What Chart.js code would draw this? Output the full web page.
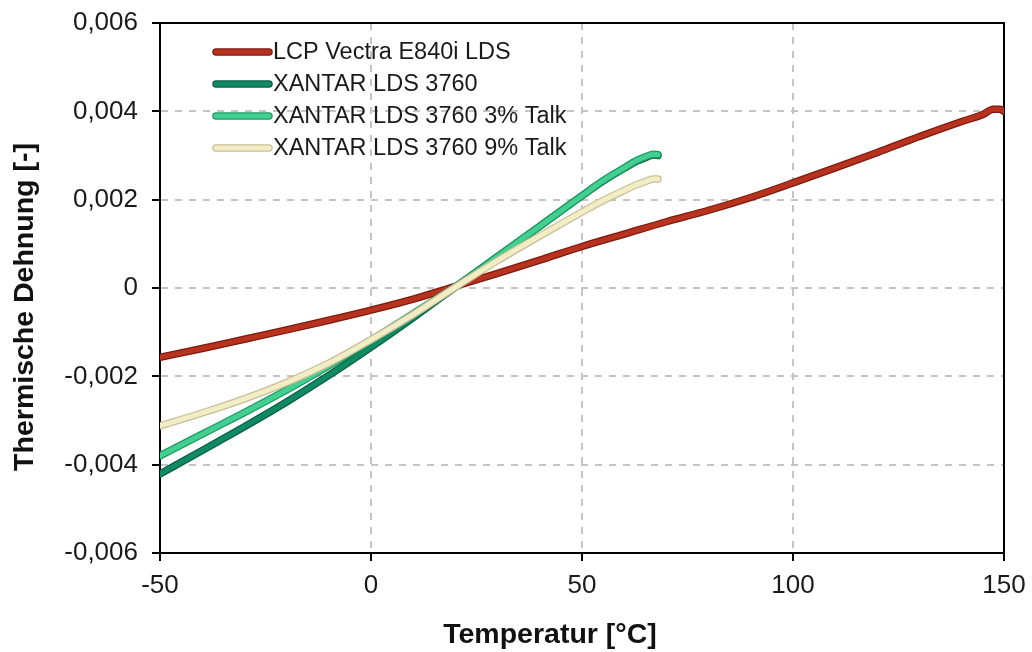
<!DOCTYPE html>
<html><head><meta charset="utf-8">
<script src="https://cdn.jsdelivr.net/npm/chart.js@4"></script>
<style>html,body{margin:0;padding:0;background:#fff}canvas{display:block}</style>
</head><body>
<canvas id="c" width="1032" height="652"></canvas>
<script>
const seriesNames = ['LCP Vectra E840i LDS', 'XANTAR LDS 3760', 'XANTAR LDS 3760 3% Talk', 'XANTAR LDS 3760 9% Talk'];
const xTitle = 'Temperatur [°C]';
const yTitle = 'Thermische Dehnung [-]';
const xTicks = [-50, 0, 50, 100, 150];
const yTicks = [-0.006, -0.004, -0.002, 0, 0.002, 0.004, 0.006];

const tempLCP = [-50, -40, -30, -20, -10, 0, 10, 20, 30, 40, 50, 60, 70, 80, 90, 100, 110, 120, 130, 140, 145, 147.5, 149, 150];
const valLCP  = [-0.00157, -0.00137, -0.00116, -0.00095, -0.00073, -0.00050, -0.00025, 0.00004, 0.00033, 0.00063, 0.00094, 0.00122, 0.00150, 0.00176, 0.00205, 0.00238, 0.00272, 0.00307, 0.00343, 0.00377, 0.00393, 0.00405, 0.00405, 0.00400];

const tempX = [-50, -40, -30, -20, -10, 0, 10, 20, 30, 40, 50, 55, 60, 63, 65, 67, 68];
const valX  = [-0.00421, -0.00368, -0.00314, -0.00258, -0.00198, -0.00134, -0.00067, 0.00002, 0.00071, 0.00140, 0.00209, 0.00242, 0.00271, 0.00287, 0.00295, 0.00301, 0.00300];

const tempX3 = [-50, -40, -30, -20, -10, 0, 10, 20, 30, 40, 50, 55, 60, 63, 65, 67, 68];
const valX3  = [-0.00380, -0.00331, -0.00282, -0.00231, -0.00176, -0.00118, -0.00058, 0.00003, 0.00071, 0.00140, 0.00209, 0.00243, 0.00272, 0.00289, 0.00297, 0.00303, 0.00302];

const tempX9 = [-50, -40, -30, -20, -10, 0, 10, 20, 30, 40, 50, 55, 60, 63, 65, 67, 68];
const valX9  = [-0.00312, -0.00283, -0.00251, -0.00214, -0.00170, -0.00117, -0.00060, 0.00002, 0.00062, 0.00118, 0.00172, 0.00198, 0.00221, 0.00234, 0.00241, 0.00247, 0.00247];

const fillColors = ['#b8321e', '#0f8a62', '#42cf8f', '#f3edc6'];
const edgeColors = ['#7a1b10', '#075f43', '#1c9a64', '#c7bf98'];
const FONT = "'Liberation Sans', Arial, sans-serif";

const temps = [tempLCP, tempX, tempX3, tempX9];
const vals = [valLCP, valX, valX3, valX9];

const datasets = [];
for (let i = seriesNames.length - 1; i >= 0; i--) {
  const pts = temps[i].map((t, k) => ({x: t, y: vals[i][k]}));
  const base = (seriesNames.length - 1 - i) * 2;
  datasets.push({label: seriesNames[i], data: pts, borderColor: fillColors[i], borderWidth: 5, order: base,
    pointRadius: 0, cubicInterpolationMode: 'monotone', borderCapStyle: 'round', borderJoinStyle: 'round', fill: false});
  datasets.push({label: seriesNames[i] + ' edge', data: pts, borderColor: edgeColors[i], borderWidth: 7.5, order: base + 1,
    pointRadius: 0, cubicInterpolationMode: 'monotone', borderCapStyle: 'round', borderJoinStyle: 'round', fill: false});
}

const fmtY = v => Math.abs(v) < 1e-9 ? '0' : v.toFixed(3).replace('.', ',');

const framePlugin = {
  id: 'frame',
  beforeDatasetsDraw(chart) {
    const {ctx, chartArea: a} = chart;
    ctx.save();
    ctx.strokeStyle = '#000';
    ctx.lineWidth = 2;
    ctx.strokeRect(a.left, a.top, a.right - a.left, a.bottom - a.top);
    ctx.restore();
  }
};

const textPlugin = {
  id: 'texts',
  afterDatasetsDraw(chart) {
    const {ctx} = chart;
    ctx.save();
    const ys = [52, 84, 116, 148];
    seriesNames.forEach((name, i) => {
      const y = ys[i];
      ctx.lineCap = 'round';
      ctx.strokeStyle = edgeColors[i];
      ctx.lineWidth = 7.5;
      ctx.beginPath(); ctx.moveTo(216, y); ctx.lineTo(269, y); ctx.stroke();
      ctx.strokeStyle = fillColors[i];
      ctx.lineWidth = 5;
      ctx.beginPath(); ctx.moveTo(216, y); ctx.lineTo(269, y); ctx.stroke();
      ctx.fillStyle = '#1a1a1a';
      ctx.font = '23.5px ' + FONT;
      ctx.textBaseline = 'middle';
      ctx.textAlign = 'left';
      ctx.fillText(name, 273, y + 1);
    });
    ctx.fillStyle = '#111';
    ctx.font = 'bold 28.5px ' + FONT;
    ctx.textAlign = 'center';
    ctx.textBaseline = 'middle';
    ctx.fillText(xTitle, 550, 635);
    ctx.translate(25, 307);
    ctx.rotate(-Math.PI / 2);
    ctx.fillText(yTitle, 0, 0);
    ctx.restore();
  }
};

new Chart(document.getElementById('c'), {
  type: 'line',
  data: {datasets},
  plugins: [framePlugin, textPlugin],
  options: {
    responsive: false,
    animation: false,
    layout: {padding: {top: 23, right: 28, left: 0, bottom: 0}},
    plugins: {legend: {display: false}, tooltip: {enabled: false}},
    scales: {
      x: {
        type: 'linear', min: -50, max: 150,
        afterBuildTicks: s => { s.ticks = xTicks.map(v => ({value: v})); },
        afterFit: s => { s.height = 99; s.paddingLeft = 0; s.paddingRight = 0; },
        ticks: {font: {family: FONT, size: 26}, color: '#1a1a1a', padding: 9, maxRotation: 0, callback: v => String(v)},
        grid: {color: '#c4c4c4', lineWidth: 2, tickLength: 8, tickColor: '#000', tickWidth: 2, tickBorderDash: []},
        border: {display: true, color: '#000', width: 2, dash: [7, 7]}
      },
      y: {
        type: 'linear', min: -0.006, max: 0.006,
        afterBuildTicks: s => { s.ticks = yTicks.map(v => ({value: v})); },
        afterFit: s => { s.width = 160; s.paddingTop = 0; s.paddingBottom = 0; },
        ticks: {font: {family: FONT, size: 26}, color: '#1a1a1a', padding: 14, callback: v => fmtY(v)},
        grid: {color: '#c4c4c4', lineWidth: 2, tickLength: 8, tickColor: '#000', tickWidth: 2, tickBorderDash: []},
        border: {display: true, color: '#000', width: 2, dash: [7, 7]}
      }
    }
  }
});
</script>
</body></html>
